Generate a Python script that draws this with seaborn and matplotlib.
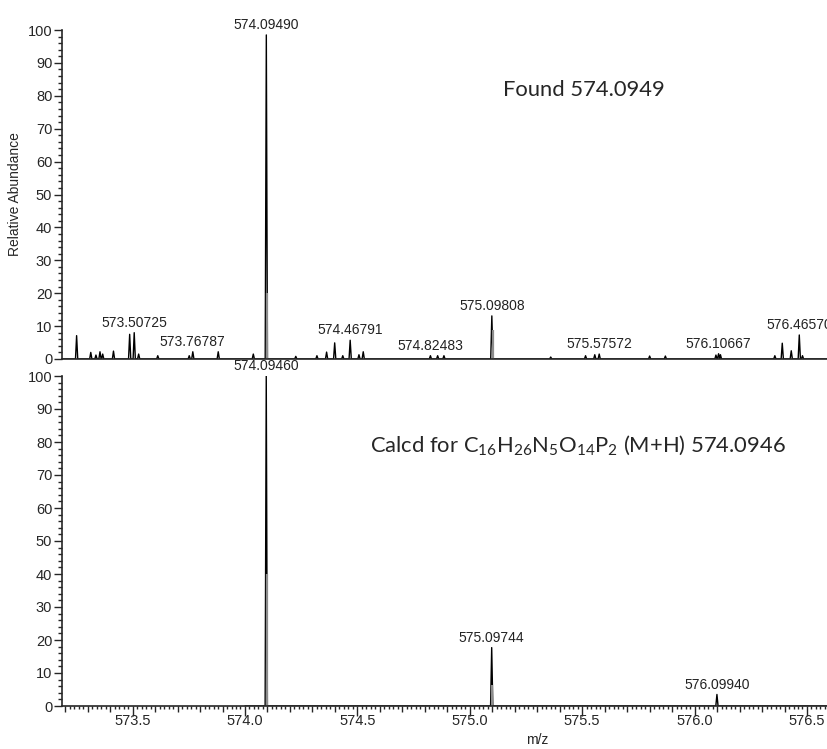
import numpy as np
import pandas as pd
import matplotlib
matplotlib.use("Agg")
import matplotlib.pyplot as plt
import seaborn as sns
from matplotlib.ticker import MultipleLocator, FuncFormatter

# measured spectrum (top)
found_mz = [573.251, 573.314, 573.337, 573.355, 573.367, 573.415, 573.487, 573.50725,
            573.527, 573.612, 573.752, 573.76787, 573.881, 574.037, 574.09490, 574.226,
            574.320, 574.363, 574.399, 574.435, 574.46791, 574.507, 574.526, 574.82483,
            574.857, 574.885, 575.09808, 575.360, 575.515, 575.556, 575.57572, 575.800,
            575.870, 576.095, 576.10667, 576.115, 576.357, 576.390, 576.430, 576.46570,
            576.480]
found_int = [7.1, 2.0, 1.2, 2.2, 1.5, 2.4, 7.5, 8.0,
             1.5, 1.0, 1.0, 2.2, 2.2, 1.5, 98.5, 0.8,
             1.0, 2.1, 4.9, 1.0, 5.7, 1.3, 2.2, 1.0,
             1.0, 1.0, 13.1, 0.6, 1.0, 1.3, 1.5, 0.9,
             0.9, 1.2, 1.6, 1.3, 1.0, 4.8, 2.5, 7.3,
             1.0]
found_labels = ["573.50725", "573.76787", "574.09490", "574.46791", "574.82483",
                "575.09808", "575.57572", "576.10667", "576.46570"]

# theoretical isotope pattern (bottom)
calc_mz = [574.09460, 575.09744, 576.09940]
calc_int = [100.0, 17.7, 3.5]
calc_labels = ["574.09460", "575.09744", "576.09940"]

# grey profile shoulders next to the main sticks
found_shoulder_mz = [574.09490, 575.09808]
found_shoulder_int = [20.0, 8.8]
calc_shoulder_mz = [574.09460, 575.09744]
calc_shoulder_int = [40.0, 6.4]

xmin, xmax = 573.186, 576.589
hw = 0.005


def profile(mz, inten, start, end):
    xs, ys = [start], [0.0]
    for m, h in sorted(zip(mz, inten)):
        xs += [m - hw, m, m + hw]
        ys += [0.0, h, 0.0]
    xs.append(end)
    ys.append(0.0)
    return pd.DataFrame({"mz": xs, "intensity": ys})


sns.set_style("ticks")
plt.rcParams["font.family"] = ["Liberation Sans", "DejaVu Sans"]
plt.rcParams["mathtext.fontset"] = "custom"
plt.rcParams["mathtext.rm"] = "Lato"
plt.rcParams["mathtext.it"] = "Lato:italic"
plt.rcParams["mathtext.bf"] = "Lato:bold"

fig = plt.figure(figsize=(8.27, 7.49), dpi=100)
ax1 = fig.add_axes([62 / 827, 1 - 359 / 749, 765 / 827, 329 / 749])
ax2 = fig.add_axes([62 / 827, 1 - 706 / 749, 765 / 827, 330 / 749])

panels = [
    (ax1, found_mz, found_int, found_labels, found_shoulder_mz, found_shoulder_int, xmin),
    (ax2, calc_mz, calc_int, calc_labels, calc_shoulder_mz, calc_shoulder_int, 574.0),
]

for ax, mz, inten, labels, smz, sint, start in panels:
    df = profile(mz, inten, start, xmax + 0.1)
    sns.lineplot(data=df, x="mz", y="intensity", ax=ax, color="black", lw=1.0,
                 estimator=None, sort=False)
    ax.vlines([m + 0.003 for m in smz], 0, sint, color="#8c8c8c", lw=1.6)
    for m, h in zip(mz, inten):
        lab = f"{m:.5f}"
        if lab in labels:
            ax.annotate(lab, (m, h), xytext=(0, 2), textcoords="offset points",
                        ha="center", va="bottom", fontsize=10, color="#222222",
                        annotation_clip=False)
    ax.set_xlim(xmin, xmax)
    ax.set_ylim(0, 100)
    sns.despine(ax=ax)
    ax.spines["left"].set_linewidth(1.2)
    ax.spines["bottom"].set_linewidth(1.2)
    ax.yaxis.set_major_locator(MultipleLocator(10))
    ax.yaxis.set_minor_locator(MultipleLocator(2))
    ax.tick_params(axis="y", which="major", length=6, width=1, labelsize=10.5, pad=1)
    ax.tick_params(axis="y", which="minor", length=3, width=1)
    ax.set_xlabel("")
    ax.set_ylabel("")

ax1.tick_params(axis="x", which="both", bottom=False, labelbottom=False)
ax1.set_ylabel("Relative Abundance", fontsize=10)
ax1.yaxis.set_label_coords(-0.052, 0.5)
ax1.text(0.682, 0.818, "Found 574.0949", transform=ax1.transAxes, ha="center",
         va="center", fontsize=15.8, family="Lato")

ax2.text(0.674, 0.79,
         r"Calcd for C$_{16}$H$_{26}$N$_5$O$_{14}$P$_2$ (M+H) 574.0946",
         transform=ax2.transAxes, ha="center", va="center", fontsize=15.8, family="Lato")

ax2.xaxis.set_major_locator(MultipleLocator(0.1))
ax2.xaxis.set_minor_locator(MultipleLocator(0.02))
ax2.xaxis.set_major_formatter(FuncFormatter(
    lambda v, p: f"{v:.1f}" if abs(v * 2 - round(v * 2)) < 1e-6 else ""))
ax2.tick_params(axis="x", which="major", length=4, width=1, labelsize=10.5, pad=2)
ax2.tick_params(axis="x", which="minor", length=2, width=1)
locs = ax2.xaxis.get_majorticklocs()
for t, v in zip(ax2.xaxis.get_major_ticks(len(locs)), locs):
    if abs(v * 2 - round(v * 2)) < 1e-6:
        t.tick1line.set_markersize(7)
ax2.set_xlabel("m/z", fontsize=10)
ax2.xaxis.set_label_coords(0.621, -0.082)

fig.savefig("out.png", dpi=100)
